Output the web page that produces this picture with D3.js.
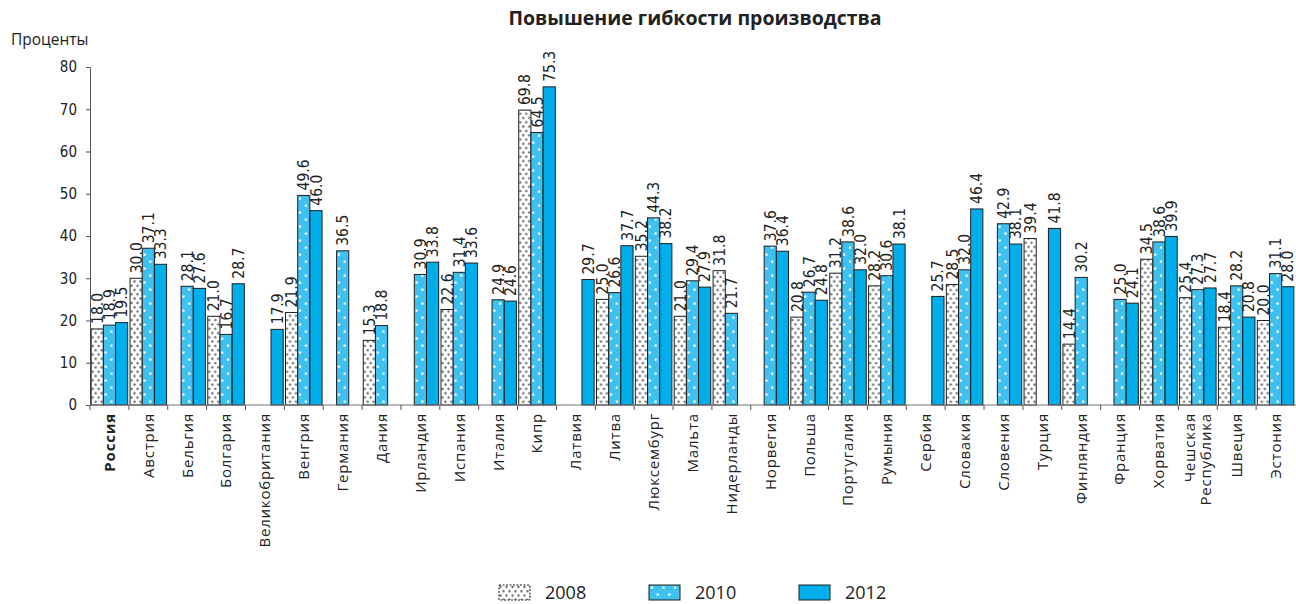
<!DOCTYPE html>
<html>
<head>
<meta charset="utf-8">
<script src="https://cdn.jsdelivr.net/npm/d3@7"></script>
<style>
  html, body { margin: 0; padding: 0; background: #fff; }
  svg { display: block; }
</style>
</head>
<body>
<svg id="chart" width="1296" height="604"></svg>
<script>
// Countries along the category axis
const countries = [
  "Россия", "Австрия", "Бельгия", "Болгария", "Великобритания", "Венгрия",
  "Германия", "Дания", "Ирландия", "Испания", "Италия", "Кипр", "Латвия",
  "Литва", "Люксембург", "Мальта", "Нидерланды", "Норвегия", "Польша",
  "Португалия", "Румыния", "Сербия", "Словакия", "Словения", "Турция",
  "Финляндия", "Франция", "Хорватия", "Чешская Республика", "Швеция", "Эстония"
];

const years = ["2008", "2010", "2012"];

// Share of firms, percent (null = no data for that year)
const values2008 = [18.0, 30.0, null, 21.0, null, 21.9, null, 15.3, null, 22.6, null, 69.8, null,
  25.0, 35.2, 21.0, 31.8, null, 20.8, 31.2, 28.2, null, 28.5, null, 39.4, 14.4, null, 34.5, 25.4, 18.4, 20.0];
const values2010 = [18.9, 37.1, 28.1, 16.7, null, 49.6, 36.5, 18.8, 30.9, 31.4, 24.9, 64.5, null,
  26.6, 44.3, 29.4, 21.7, 37.6, 26.7, 38.6, 30.6, null, 32.0, 42.9, null, 30.2, 25.0, 38.6, 27.3, 28.2, 31.1];
const values2012 = [19.5, 33.3, 27.6, 28.7, 17.9, 46.0, null, null, 33.8, 33.6, 24.6, 75.3, 29.7,
  37.7, 38.2, 27.9, null, 36.4, 24.8, 32.0, 38.1, 25.7, 46.4, 38.1, 41.8, null, 24.1, 39.9, 27.7, 20.8, 28.0];

const yTicks = [0, 10, 20, 30, 40, 50, 60, 70, 80];

const series = [values2008, values2010, values2012];

const svg = d3.select("#chart");
const W = 1296, H = 604;
const plot = { left: 90, right: 1295, top: 67, bottom: 405 };

const valueFont = "'Liberation Sans Narrow', 'Arial Narrow', 'DejaVu Sans Condensed', sans-serif";
const labelFont = "'Open Sans', 'Noto Sans', 'DejaVu Sans', sans-serif";

// ---- fill patterns ----
const defs = svg.append("defs");

const pDots = defs.append("pattern")
  .attr("id", "p2008").attr("patternUnits", "userSpaceOnUse")
  .attr("width", 6).attr("height", 8.6);
pDots.append("rect").attr("width", 6).attr("height", 8.6).attr("fill", "#ffffff");
pDots.append("circle").attr("cx", 1.5).attr("cy", 2).attr("r", 1.2).attr("fill", "#666");
pDots.append("circle").attr("cx", 4.5).attr("cy", 6.3).attr("r", 1.2).attr("fill", "#666");

const pSq = defs.append("pattern")
  .attr("id", "p2010").attr("patternUnits", "userSpaceOnUse")
  .attr("width", 11.6).attr("height", 14);
pSq.append("rect").attr("width", 11.6).attr("height", 14).attr("fill", "#3ec1ef");
pSq.append("rect").attr("x", 1.8).attr("y", 1.5).attr("width", 2.2).attr("height", 2.2).attr("fill", "#ffffff");
pSq.append("rect").attr("x", 7.6).attr("y", 8.5).attr("width", 2.2).attr("height", 2.2).attr("fill", "#ffffff");

const fills = { "2008": "url(#p2008)", "2010": "url(#p2010)", "2012": "#00aeec" };

// ---- scales ----
const x = d3.scaleBand()
  .domain(countries)
  .range([plot.left, plot.right])
  .paddingInner(0.06)
  .paddingOuter(0.03);

const xSub = d3.scaleBand()
  .domain(years)
  .range([0, x.bandwidth()]);

const y = d3.scaleLinear()
  .domain([0, 80])
  .range([plot.bottom, plot.top]);

// ---- title & axis caption ----
svg.append("text")
  .attr("x", 695).attr("y", 25)
  .attr("text-anchor", "middle")
  .attr("font-family", labelFont)
  .attr("font-weight", "bold")
  .attr("font-size", 19.5)
  .attr("fill", "#222")
  .text("Повышение гибкости производства");

svg.append("text")
  .attr("x", 11).attr("y", 45)
  .attr("font-family", labelFont)
  .attr("font-size", 15.5)
  .attr("fill", "#222")
  .text("Проценты");

// ---- y axis ----
const yAxis = svg.append("g")
  .attr("transform", `translate(${plot.left},0)`)
  .call(d3.axisLeft(y).tickValues(yTicks).tickFormat(d3.format("d")).tickSize(4).tickPadding(9));
yAxis.select(".domain").attr("stroke", "#555");
yAxis.selectAll(".tick line").attr("stroke", "#555");
yAxis.selectAll(".tick text")
  .attr("font-family", valueFont)
  .attr("font-size", 15)
  .attr("fill", "#222");

// ---- bars ----
const groups = svg.append("g").selectAll("g")
  .data(countries)
  .join("g")
  .attr("transform", d => `translate(${x(d)},0)`);

groups.each(function (c, i) {
  const g = d3.select(this);
  const recs = years.map((yr, k) => ({ yr, v: series[k][i] })).filter(r => r.v !== null);

  g.selectAll("rect")
    .data(recs)
    .join("rect")
    .attr("x", r => xSub(r.yr))
    .attr("y", r => y(r.v))
    .attr("width", xSub.bandwidth())
    .attr("height", r => y(0) - y(r.v))
    .attr("fill", r => fills[r.yr])
    .attr("stroke", "#1e1e1e")
    .attr("stroke-width", 1);

  g.selectAll("text")
    .data(recs)
    .join("text")
    .attr("transform", r => `translate(${xSub(r.yr) + xSub.bandwidth() / 2},${y(r.v) - 5}) rotate(-90)`)
    .attr("dy", "0.36em")
    .attr("font-family", valueFont)
    .attr("font-size", 15.5)
    .attr("fill", "#222")
    .text(r => r.v.toFixed(1));
});

// ---- x axis: baseline, boundary ticks, rotated country names ----
const xAxis = svg.append("g");
xAxis.append("line")
  .attr("x1", plot.left).attr("x2", W)
  .attr("y1", plot.bottom).attr("y2", plot.bottom)
  .attr("stroke", "#777").attr("stroke-width", 1.2);

const half = (x.step() - x.bandwidth()) / 2;
xAxis.selectAll("line.bound")
  .data(countries)
  .join("line")
  .attr("class", "bound")
  .attr("x1", d => x(d) - half).attr("x2", d => x(d) - half)
  .attr("y1", plot.bottom).attr("y2", plot.bottom + 5)
  .attr("stroke", "#555");

const names = xAxis.selectAll("text")
  .data(countries)
  .join("text")
  .attr("transform", d => `translate(${x(d) + x.bandwidth() / 2},${plot.bottom + 8}) rotate(-90)`)
  .attr("text-anchor", "end")
  .attr("font-family", labelFont)
  .attr("font-size", 15)
  .attr("letter-spacing", "0.8px")
  .attr("font-weight", d => d === "Россия" ? "bold" : "normal")
  .attr("fill", "#222");

names.each(function (d) {
  const t = d3.select(this);
  const parts = d.split(" ");
  if (parts.length === 1) {
    t.append("tspan").attr("x", 0).attr("dy", "0.36em").text(d);
  } else {
    t.append("tspan").attr("x", 0).attr("dy", "-0.2em").text(parts[0]);
    t.append("tspan").attr("x", 0).attr("dy", "1.1em").text(parts[1]);
  }
});

// ---- legend ----
const legend = svg.append("g").selectAll("g")
  .data(years)
  .join("g")
  .attr("transform", (d, i) => `translate(${499 + i * 150},585)`);

legend.append("rect")
  .attr("width", 31).attr("height", 15)
  .attr("fill", d => fills[d])
  .attr("stroke", "#1e1e1e")
  .attr("stroke-dasharray", d => d === "2008" ? "2,1.5" : null)
  .attr("stroke-width", 1);

legend.append("text")
  .attr("x", 46).attr("y", 14)
  .attr("font-family", labelFont)
  .attr("font-size", 18)
  .attr("fill", "#222")
  .text(d => d);
</script>
</body>
</html>
